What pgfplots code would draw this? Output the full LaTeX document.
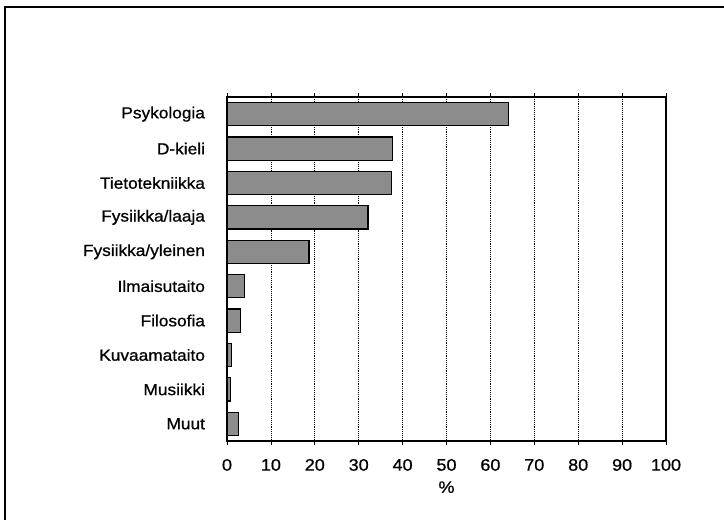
\documentclass[border=0pt]{standalone}
\usepackage{fontspec}
\setmainfont{Liberation Sans}[FakeStretch=1.08, FakeBold=0.8]
\usepackage{pgfplots}
\pgfplotsset{compat=1.18}

\begin{document}
\begin{tikzpicture}
  % page = 724 x 520 px at 0.75pt per px
  \useasboundingbox (0,0) rectangle (543pt,390pt);
  % scanned frame (left and top edges visible)
  \draw[line width=1pt] (3.75pt,0) -- (3.75pt,384.75pt) -- (543pt,384.75pt);

  \begin{axis}[
      at={(170.25pt,59.25pt)}, anchor=south west,
      scale only axis,
      width=329.25pt, height=258pt,
      xbar, bar width=0.67,
      xmin=0, xmax=100,
      ymin=-0.5, ymax=9.5,
      y dir=reverse,
      xtick={0,10,...,100},
      ytick={0,...,9},
      yticklabels={Psykologia, D-kieli, Tietotekniikka, Fysiikka/laaja,
                   Fysiikka/yleinen, Ilmaisutaito, Filosofia, Kuvaamataito,
                   Musiikki, Muut},
      ytick style={draw=none},
      xtick style={black, line width=0.6pt},
      tick align=outside,
      major tick length=3pt,
      axis line style={line width=1pt},
      xmajorgrids,
      grid style={black, densely dotted, line width=0.5pt},
      /pgf/number format/assume math mode=true,
      xticklabel style={font=\fontsize{12.5}{14}\selectfont, yshift=-7pt},
      yticklabel style={font=\fontsize{12}{14}\selectfont, xshift=-10pt},
      xlabel={\%},
      xlabel style={font=\fontsize{12.5}{14}\selectfont, yshift=-1pt},
    ]
    \addplot[draw=black, line width=0.9pt, fill=black!45] coordinates {
      (64.2,0) (37.7,1) (37.4,2) (32.1,3) (18.7,4)
      (3.9,5) (3.1,6) (1.0,7) (0.8,8) (2.6,9)
    };
  \end{axis}
\end{tikzpicture}
\end{document}
